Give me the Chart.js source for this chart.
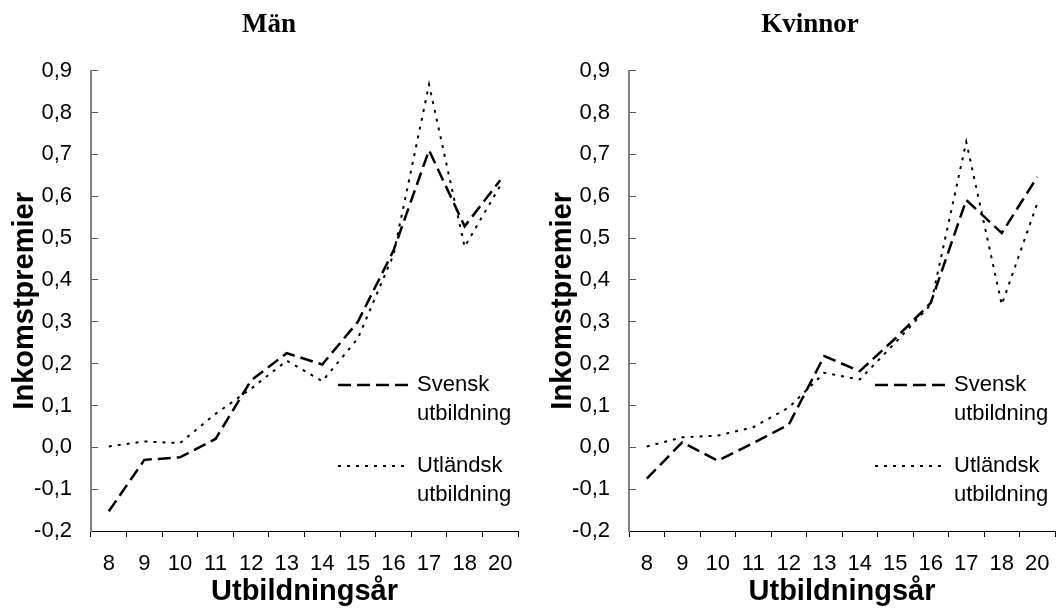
<!DOCTYPE html>
<html>
<head>
<meta charset="utf-8">
<script src="https://cdn.jsdelivr.net/npm/chart.js@4.4.1/dist/chart.umd.min.js"></script>
<style>
    html, body { margin: 0; padding: 0; background: #fff; }
    body { width: 1057px; height: 609px; overflow: hidden; position: relative; }
    .panel { position: absolute; top: 0; }
    #panelMan { left: 0; }
    #panelKvinnor { left: 538px; }
</style>
</head>
<body>
<div class="panel" id="panelMan"><canvas id="manChart" width="538" height="609"></canvas></div>
<div class="panel" id="panelKvinnor"><canvas id="kvinnorChart" width="544" height="609"></canvas></div>
<script>
// Utbildningsår (kategorier)
const categories = ['8', '9', '10', '11', '12', '13', '14', '15', '16', '17', '18', '20'];

// Män
const manSvensk = [-0.153, -0.03, -0.024, 0.02, 0.16, 0.225, 0.198, 0.30, 0.47, 0.71, 0.528, 0.638];
const manUtlandsk = [0.002, 0.014, 0.01, 0.08, 0.14, 0.207, 0.158, 0.26, 0.46, 0.867, 0.479, 0.625];

// Kvinnor
const kvinnorSvensk = [-0.075, 0.012, -0.032, 0.01, 0.054, 0.218, 0.182, 0.26, 0.345, 0.591, 0.512, 0.646];
const kvinnorUtlandsk = [0.002, 0.024, 0.028, 0.048, 0.095, 0.178, 0.162, 0.25, 0.341, 0.73, 0.341, 0.583];

const seriesLabels = ['Svensk utbildning', 'Utländsk utbildning'];
const legendLines = [['Svensk', 'utbildning'], ['Utländsk', 'utbildning']];
const panelTitles = ['Män', 'Kvinnor'];
const xTitle = 'Utbildningsår';
const yTitle = 'Inkomstpremier';
const yMin = -0.2;
const yMax = 0.9;

const sansFont = "'Liberation Sans', Arial, sans-serif";
const serifFont = "'Liberation Serif', 'Times New Roman', serif";

// legend drawn inside the plot area, to the right
const sideLegend = {
    id: 'sideLegend',
    afterDatasetsDraw(chart) {
        const { ctx, chartArea } = chart;
        const rowOffsets = [146, 65];
        ctx.save();
        ctx.font = '22px ' + sansFont;
        ctx.fillStyle = '#000';
        ctx.textBaseline = 'middle';
        ctx.textAlign = 'left';
        chart.data.datasets.forEach((ds, i) => {
            const y = chartArea.bottom - rowOffsets[i];
            ctx.beginPath();
            ctx.strokeStyle = ds.borderColor;
            ctx.lineWidth = ds.borderWidth;
            ctx.setLineDash(ds.borderDash);
            ctx.moveTo(chartArea.right - 180, y);
            ctx.lineTo(chartArea.right - 110, y);
            ctx.stroke();
            ctx.setLineDash([]);
            legendLines[i].forEach((line, j) => {
                ctx.fillText(line, chartArea.right - 101, y + j * 29);
            });
        });
        ctx.restore();
    }
};

function makeChart(canvasId, title, svensk, utlandsk, rightSpace) {
    const ctx = document.getElementById(canvasId).getContext('2d');
    return new Chart(ctx, {
        type: 'line',
        data: {
            labels: categories,
            datasets: [{
                label: seriesLabels[0],
                data: svensk,
                borderColor: '#000',
                borderWidth: 2.5,
                borderDash: [13, 6],
                pointRadius: 0,
                tension: 0,
                fill: false
            }, {
                label: seriesLabels[1],
                data: utlandsk,
                borderColor: '#000',
                borderWidth: 2,
                borderDash: [3, 6],
                pointRadius: 0,
                tension: 0,
                fill: false
            }]
        },
        options: {
            responsive: false,
            animation: false,
            layout: {
                padding: 0
            },
            plugins: {
                legend: { display: false },
                tooltip: { enabled: false },
                title: {
                    display: true,
                    text: title,
                    color: '#000',
                    font: { family: serifFont, size: 27, weight: 'bold' },
                    padding: { top: 9, bottom: 29.3 }
                }
            },
            scales: {
                x: {
                    type: 'category',
                    offset: true,
                    grid: {
                        offset: true,
                        drawOnChartArea: false,
                        tickLength: 6,
                        color: '#000'
                    },
                    border: { display: true, color: '#000', width: 1 },
                    ticks: {
                        color: '#000',
                        font: { family: sansFont, size: 22 },
                        padding: 14,
                        maxRotation: 0,
                        autoSkip: false
                    },
                    title: {
                        display: true,
                        text: xTitle,
                        color: '#000',
                        font: { family: sansFont, size: 29, weight: 'bold' },
                        padding: { top: 0, bottom: 0 }
                    },
                    afterFit: function(scale) {
                        scale.height = 78;
                    }
                },
                y: {
                    min: yMin,
                    max: yMax,
                    grid: {
                        drawOnChartArea: false,
                        tickLength: -7,
                        color: '#555'
                    },
                    border: { display: true, color: '#808080', width: 2 },
                    ticks: {
                        stepSize: 0.1,
                        color: '#000',
                        font: { family: sansFont, size: 22 },
                        padding: 26,
                        callback: function(value) {
                            const v = Math.round(value * 10) / 10 + 0;
                            return v.toFixed(1).replace('.', ',');
                        }
                    },
                    title: {
                        display: true,
                        text: yTitle,
                        color: '#000',
                        font: { family: sansFont, size: 29, weight: 'bold' },
                        padding: { top: 8, bottom: 0 }
                    },
                    afterFit: function(scale) {
                        scale.width = 91;
                    }
                },
                // empty right-hand space so the panel title is centred on the whole panel
                yRight: {
                    position: 'right',
                    display: true,
                    grid: { display: false },
                    border: { display: false },
                    ticks: { display: false },
                    afterFit: function(scale) {
                        scale.width = rightSpace;
                    }
                }
            }
        },
        plugins: [sideLegend]
    });
}

makeChart('manChart', panelTitles[0], manSvensk, manUtlandsk, 20);
makeChart('kvinnorChart', panelTitles[1], kvinnorSvensk, kvinnorUtlandsk, 27);
</script>
</body>
</html>
